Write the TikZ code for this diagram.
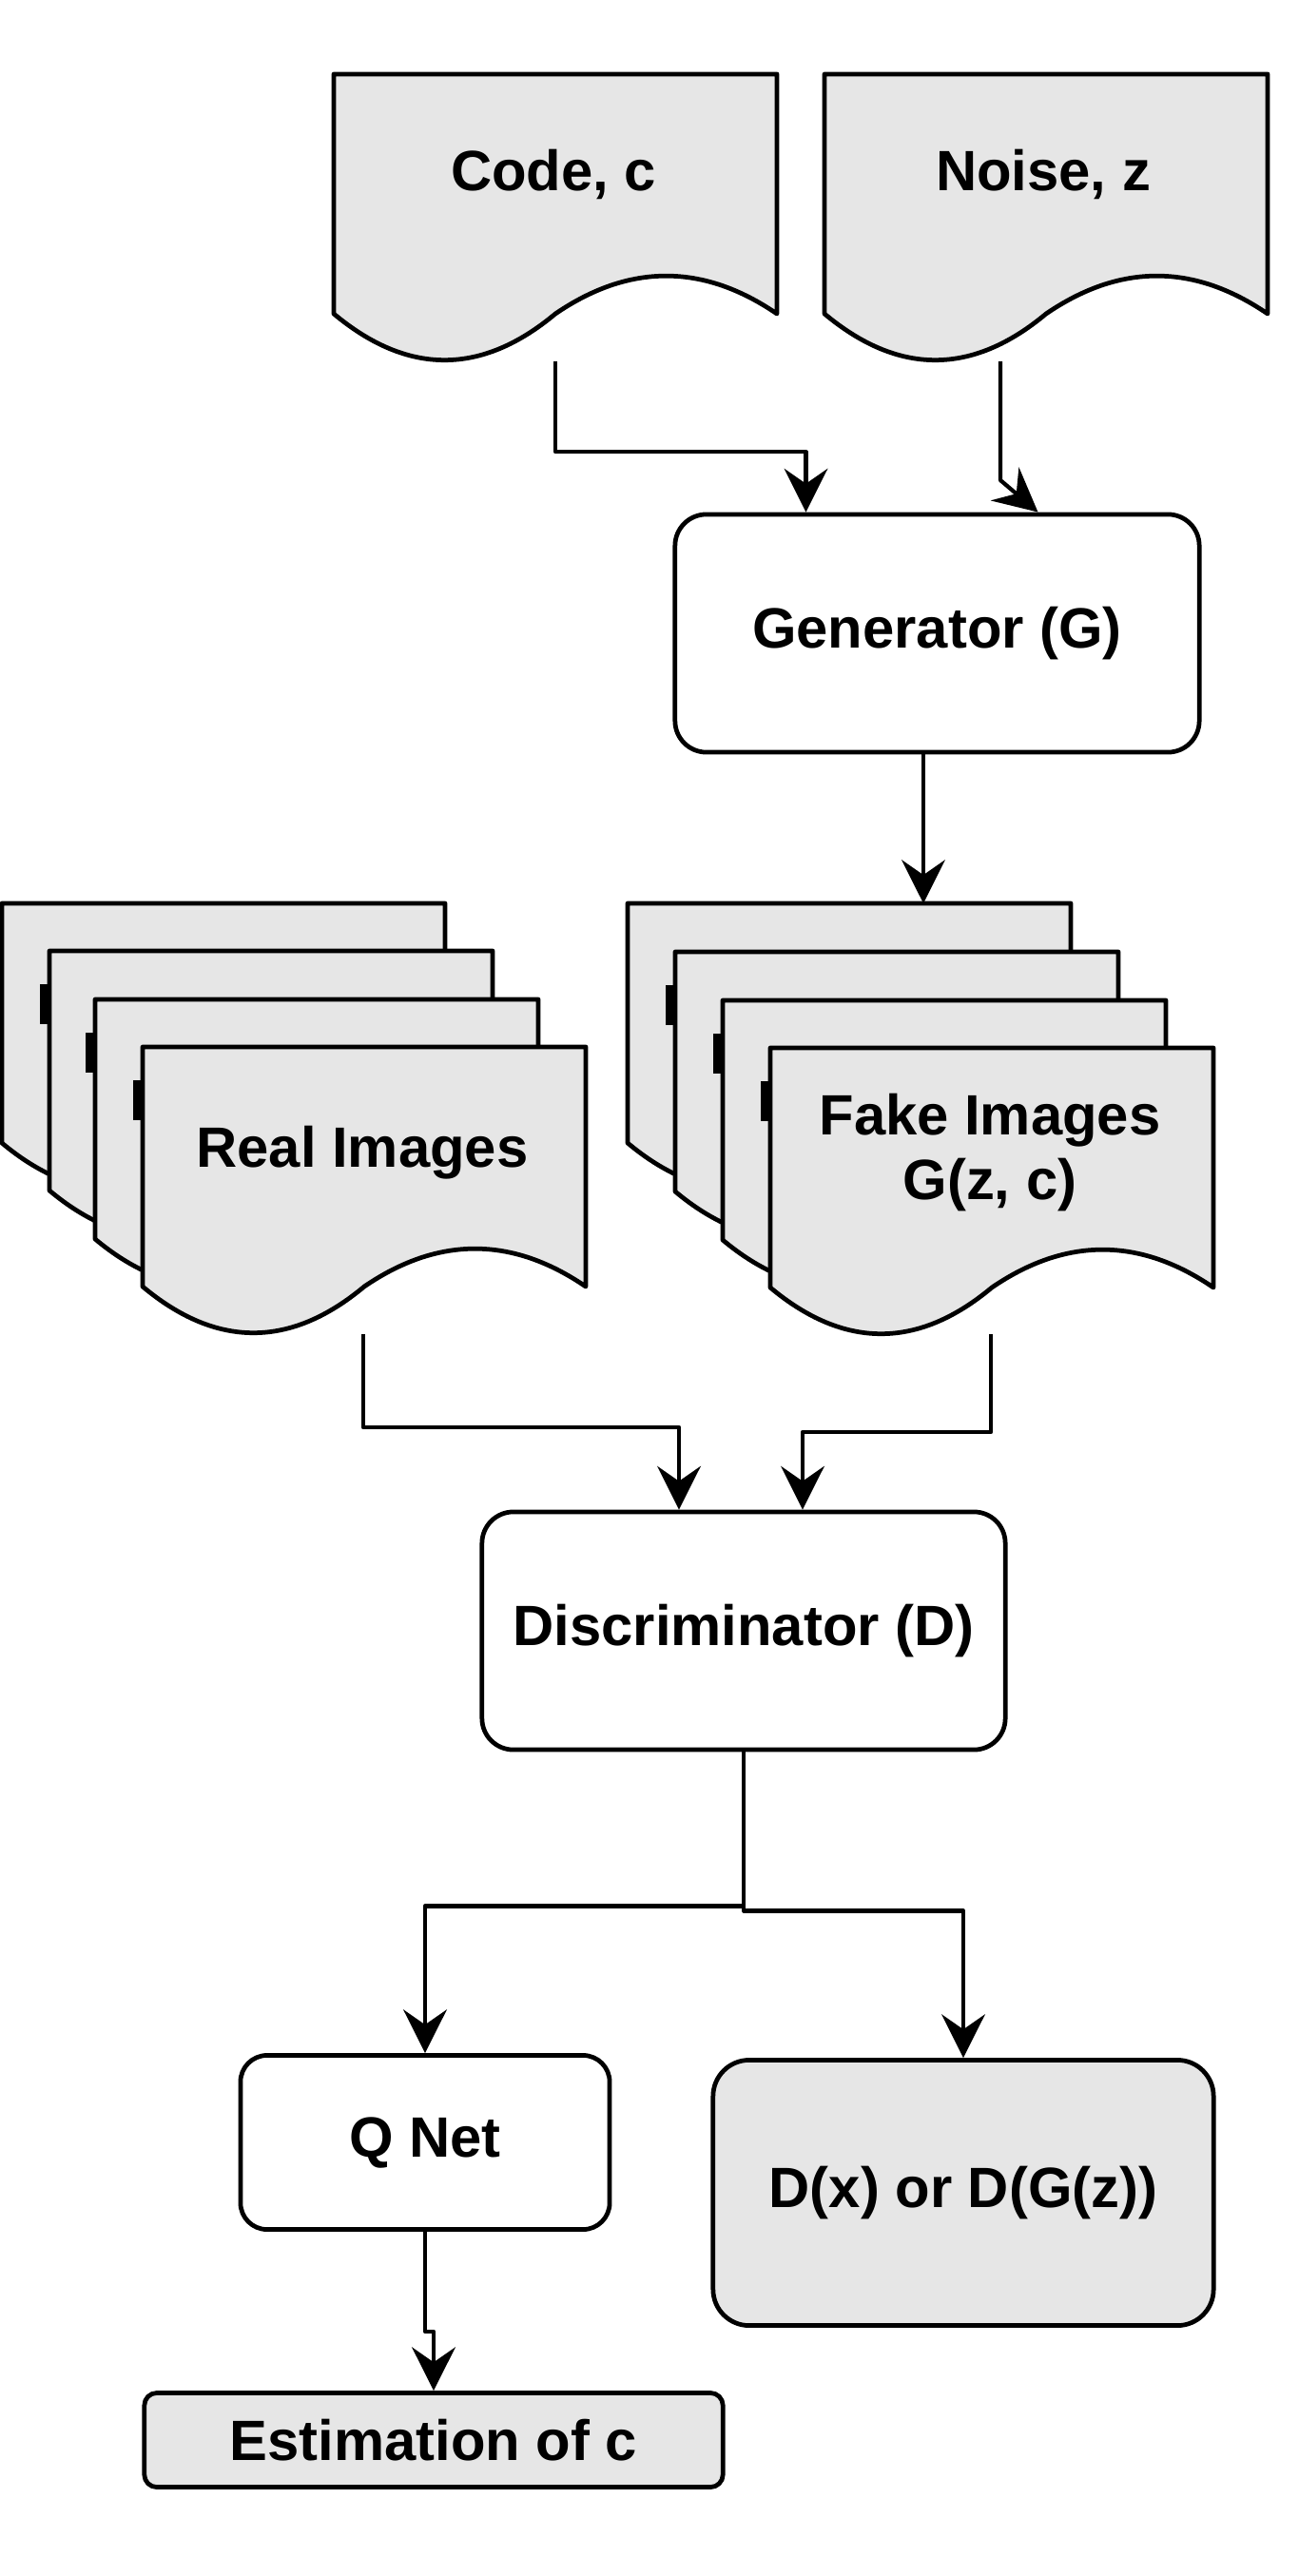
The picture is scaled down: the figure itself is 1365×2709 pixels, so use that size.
\documentclass[tikz,border=0pt]{standalone}
\usepackage{fontspec}
\setmainfont{Liberation Sans}
\usepackage{tikz}
\usetikzlibrary{arrows.meta}
\usetikzlibrary{positioning}
\usetikzlibrary{calc}
\definecolor{sheetgray}{HTML}{E6E6E6}

\begin{document}
\begin{tikzpicture}[line join=round,x=0.01cm,y=-0.01cm,
  >={Stealth[length=13pt,width=13pt,inset=4.5pt]},
  sheet/.style={fill=sheetgray,draw=black,line width=1.35pt},
  box/.style={draw=black,line width=1.35pt,rounded corners=0.33cm,align=center,font=\fontsize{17}{19.6}\selectfont\bfseries},
  lbl/.style={align=center,font=\fontsize{17}{19.6}\selectfont\bfseries},
  arr/.style={->,line width=1.2pt}]
\useasboundingbox (0,0) rectangle (1365,2709);
% wavy sheets: code, noise, then the two stacks (back to front)
\foreach \sx/\sy in {351/78,867/78,2/950,52/1000,100/1051,150/1101,660/950,710/1001,760/1052,810/1102}
\filldraw[sheet,shift={(\sx,\sy)}] (0,0) -- (466,0) -- (466,252) .. controls (388.3,198.9) and (310.7,198.9) .. (233,252) .. controls (155.3,316.9) and (77.7,316.9) .. (0,252) -- cycle;
% cut off text of the sheets behind
\foreach \sx/\sy in {52/1000,100/1051,150/1101,710/1001,760/1052,810/1102}
\fill[black,shift={(\sx,\sy)}] (-10,35) rectangle (-2,77);
\node[lbl] (code) at (582,183) {Code, c};
\node[lbl] (noise) at (1097,183) {Noise, z};
\node[lbl] (real) at (381,1212) {Real Images};
\node[lbl] (fake) at (1041,1212) {Fake Images\\G(z, c)};
\coordinate (codeb) at (584,380);
\coordinate (noiseb) at (1052,380);
\coordinate (realb) at (382,1403);
\coordinate (fakeb) at (1042,1403);
\coordinate (fakein) at (971,950);
\node[box,minimum width=5.51cm,minimum height=2.5cm] (gen) at (985.5,666) {Generator (G)};
\node[box,minimum width=5.5cm,minimum height=2.5cm] (disc) at (782,1715) {Discriminator (D)};
\node[box,minimum width=3.88cm,minimum height=1.83cm,rounded corners=0.28cm] (qnet) at (447,2253) {Q Net};
\node[box,fill=sheetgray,minimum width=5.26cm,minimum height=2.79cm,rounded corners=0.38cm] (dx) at (1013,2306) {D(x) or D(G(z))};
\node[box,fill=sheetgray,minimum width=6.08cm,minimum height=0.99cm,rounded corners=0.13cm] (est) at (456,2566) {Estimation of c};
\draw[arr] (codeb) -- ++(0,95) -| ($(gen.north)+(-138,0)$);
\draw[arr] (noiseb) -- ++(0,125) -- ($(gen.north)+(106,0)$);
\draw[arr] (gen.south -| fakein) -- (fakein);
\draw[arr] (realb) -- ++(0,98) -| ($(disc.north)+(-68,0)$);
\draw[arr] (fakeb) -- ++(0,103) -| ($(disc.north)+(62,0)$);
\draw[arr] (disc.south) -- ++(0,162) -| (qnet.north);
\draw[arr] (disc.south) -- ++(0,167) -| (dx.north);
\draw[arr] (qnet.south) -- ++(0,105) -| (est.north);
\end{tikzpicture}
\end{document}
